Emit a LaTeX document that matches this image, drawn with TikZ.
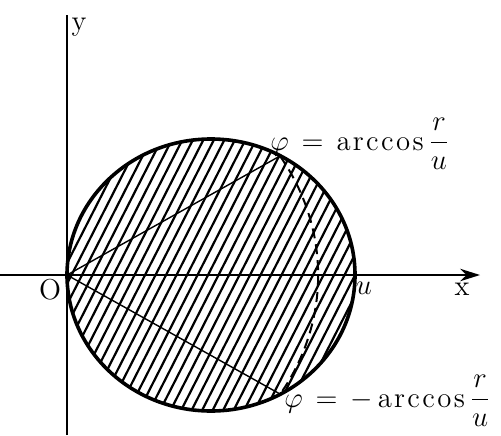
\documentclass[tikz,border=0pt]{standalone}
\usepackage{amsmath}
\usetikzlibrary{arrows.meta}
\newcommand{\arcc}{\mathrm{a\mkern1.5mu r\mkern1.5mu c\mkern1.5mu c\mkern1.5mu o\mkern1.5mu s}}
\tikzset{ax/.style={line width=.8pt},arr/.style={ax,-{Stealth[length=3.5mm,width=2.2mm]}},
 rim/.style={line width=1.8pt},hat/.style={line width=1.1pt},cho/.style={line width=.7pt},
 dsh/.style={line width=1pt,dash pattern=on 5pt off 3pt},
 lab/.style={font=\Large,inner sep=1pt},
 every node/.style={font=\Large}}
\begin{document}
\begin{tikzpicture}[x=.5pt,y=.5pt]
\useasboundingbox (0,0) rectangle (501,435);
\coordinate (O) at (67,160);\coordinate (C) at (211,160);
\coordinate (P) at (280,279);\coordinate (Q) at (280,41);
\coordinate (xa) at (0,160);\coordinate (xb) at (480,160);
\coordinate (ya) at (67,0);\coordinate (yb) at (67,420);
% hatching inside the circle
\begin{scope}
\clip (C) ellipse [x radius=144,y radius=136];
\foreach \i in {0,...,42}{\draw[hat] (\i*10.5-73,0)--++(63:360);}
\end{scope}
\draw[rim] (C) ellipse [x radius=144,y radius=136];
\draw[cho] (O)--(P);\draw[cho] (O)--(Q);
\draw[dsh] (P) arc [start angle=32,end angle=-32,x radius=251,y radius=225];
\draw[arr] (xa)--(xb);\draw[ax] (ya)--(yb);
\node (ylab) at (79,408) {y};\node (xlab) at (462,146) {x};
\node (olab) at (50,145) {O};\node (ulab) at (364,147) {$u$};
\node[lab,anchor=west] (top) at (268,291) {$\varphi\,=\,\arcc\,\dfrac{r}{u}$};
\node[lab,anchor=west] (bot) at (282,34) {$\varphi\,=\,-\,\arcc\,\dfrac{r}{u}$};
\end{tikzpicture}
\end{document}
